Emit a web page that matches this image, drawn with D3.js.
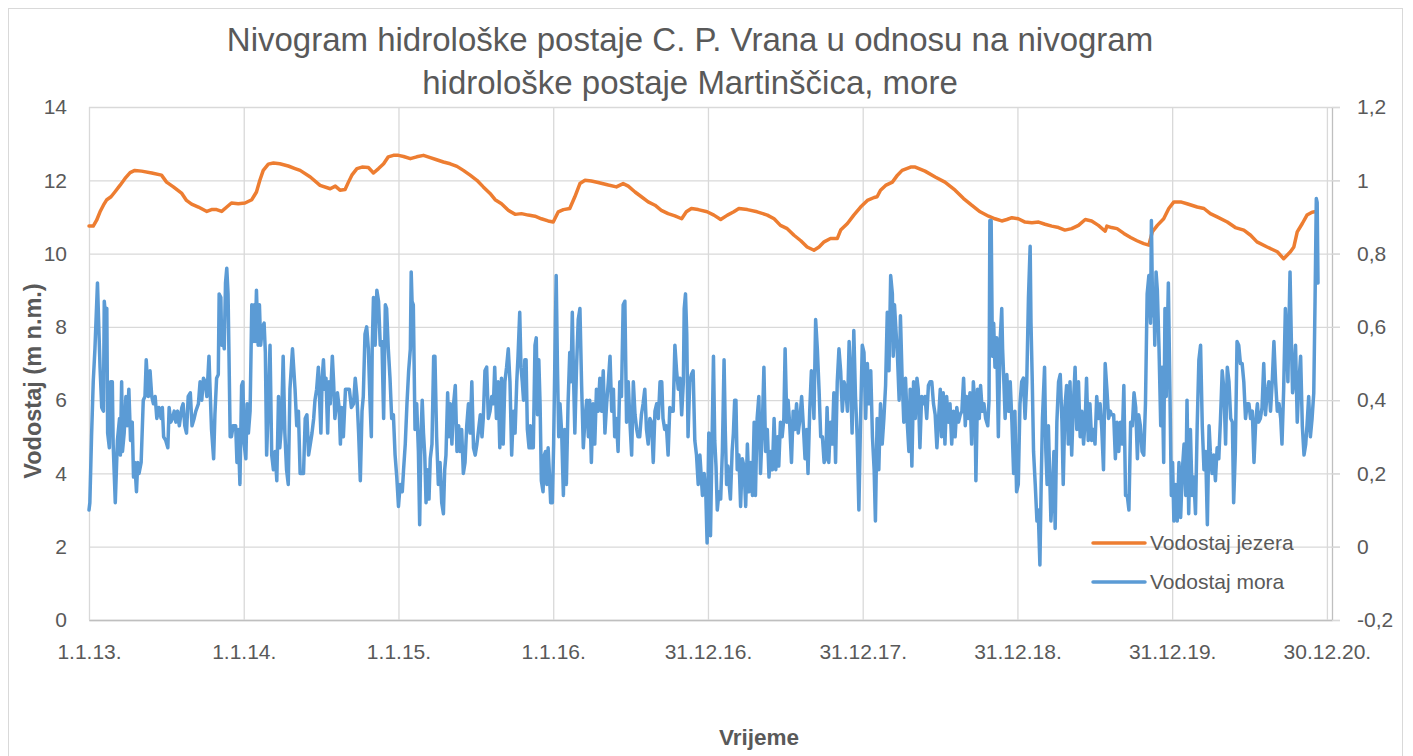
<!DOCTYPE html>
<html>
<head>
<meta charset="utf-8">
<script src="https://cdn.jsdelivr.net/npm/d3@7"></script>
<style>
  body { margin: 0; background: #fff; }
  text { font-family: "Liberation Sans", Arial, sans-serif; fill: #595959; }
</style>
</head>
<body>
<div id="chart"></div>
<script>
// day = days since 1.1.2013

// lake level, m n.m. (left axis)
const lakeSeries = [
  [0,10.75],[10,10.75],[18,10.91],[26,11.14],[34,11.32],[42,11.47],[52,11.55],[61,11.68],[73,11.86],[85,12.05],[97,12.21],[108,12.27],[124,12.25],[148,12.2],[171,12.14],[183,11.95],[199,11.82],[219,11.64],[230,11.45],[242,11.35],[258,11.27],[278,11.15],[289,11.2],[301,11.2],[313,11.15],[325,11.27],[336,11.38],[352,11.36],[368,11.38],[384,11.47],[395,11.68],[403,12.0],[411,12.27],[423,12.44],[435,12.47],[450,12.45],[470,12.39],[486,12.32],
  [498,12.27],[522,12.09],[545,11.86],[569,11.77],[581,11.84],[592,11.73],[604,11.75],[612,11.95],[620,12.14],[632,12.32],[644,12.36],[659,12.35],[671,12.2],[683,12.32],[695,12.45],[706,12.64],[718,12.68],[730,12.68],[742,12.65],[758,12.59],[773,12.64],[789,12.68],[805,12.62],[820,12.56],[836,12.5],[852,12.45],[868,12.38],[883,12.27],[899,12.14],[915,12.0],[930,11.82],[946,11.64],[958,11.47],
  [973,11.36],[989,11.18],[1005,11.07],[1020,11.09],[1036,11.05],[1052,11.02],[1067,10.95],[1083,10.89],[1095,10.86],[1107,11.14],[1119,11.2],[1134,11.23],[1146,11.55],[1158,11.91],[1170,12.0],[1185,11.98],[1201,11.94],[1225,11.87],[1244,11.82],[1260,11.91],[1272,11.84],[1288,11.68],[1303,11.55],[1319,11.41],[1335,11.32],[1350,11.18],[1366,11.09],[1382,11.03],[1398,10.95],[1409,11.14],[1421,11.23],[1437,11.2],
  [1458,11.14],[1474,11.05],[1490,10.93],[1506,11.05],[1521,11.14],[1533,11.23],[1553,11.2],[1576,11.14],[1600,11.05],[1616,10.95],[1631,10.77],[1647,10.68],[1663,10.5],[1679,10.35],[1694,10.18],[1710,10.09],[1722,10.18],[1734,10.32],[1749,10.41],[1765,10.41],[1773,10.64],[1789,10.82],[1804,11.05],[1820,11.27],[1836,11.45],[1852,11.53],[1859,11.55],[1867,11.73],[1879,11.86],[1895,11.95],[1907,12.14],[1918,12.27],[1938,12.36],
  [1949,12.36],[1972,12.25],[1996,12.09],[2019,11.95],[2043,11.73],[2063,11.5],[2082,11.32],[2102,11.14],[2122,11.02],[2137,10.95],[2153,10.89],[2165,10.93],[2177,10.98],[2192,10.95],[2208,10.86],[2224,10.84],[2240,10.86],[2255,10.8],[2271,10.75],[2287,10.71],[2302,10.64],[2318,10.68],[2334,10.77],[2350,10.93],[2365,10.89],[2381,10.77],[2397,10.61],[2401,10.75],[2412,10.71],
  [2425,10.68],[2441,10.55],[2457,10.44],[2472,10.35],[2488,10.27],[2500,10.23],[2508,10.59],[2520,10.77],[2535,10.95],[2547,11.23],[2559,11.41],[2575,11.41],[2590,11.36],[2614,11.27],[2630,11.23],[2645,11.09],[2661,11.0],[2685,10.86],[2704,10.71],[2724,10.64],[2740,10.5],[2755,10.32],[2779,10.18],[2803,10.05],[2818,9.86],[2834,10.05],[2842,10.18],[2850,10.59],[2862,10.82],[2873,11.05],[2885,11.13],[2891,11.14]
]

// sea level, m (right axis)
const seaSeries = [
  [0,0.1],[2,0.12],[6,0.30],[10,0.45],[14,0.54],[20,0.72],[26,0.49],[30,0.38],[34,0.37],[36,0.67],[39,0.63],[42,0.65],[44,0.31],[48,0.27],[51,0.45],[55,0.45],[57,0.28],[62,0.12],[67,0.29],[72,0.35],[74,0.25],[77,0.45],[79,0.26],[83,0.31],[87,0.41],[90,0.33],[94,0.43],[98,0.29],[102,0.34],[105,0.19],[108,0.23],[112,0.15],[115,0.23],[118,0.20],[123,0.23],[128,0.40],[132,0.41],[135,0.51],[140,0.41],[144,0.48],[148,0.41],[152,0.39],[156,0.41],[160,0.35],[165,0.38],[170,0.35],[173,0.38],[176,0.30],[181,0.29],[186,0.27],[189,0.38],[193,0.34],[197,0.35],[201,0.37],[205,0.34],[209,0.37],[213,0.33],[219,0.38],[222,0.39],[226,0.33],[230,0.31],[234,0.41],[239,0.42],[243,0.33],[248,0.35],[252,0.37],[258,0.39],[262,0.45],[266,0.40],[270,0.46],[274,0.45],[278,0.41],[283,0.52],[285,0.45],[289,0.32],[294,0.24],[297,0.36],[301,0.46],[305,0.47],[307,0.69],[311,0.68],[313,0.55],[316,0.57],[319,0.54],[322,0.72],[325,0.76],[328,0.69],[330,0.54],[333,0.30],[336,0.30],[340,0.33],[346,0.33],[349,0.23],[352,0.32],[356,0.17],[360,0.44],[363,0.45],[366,0.28],[370,0.24],[373,0.39],[376,0.31],[380,0.37],[384,0.66],[387,0.56],[390,0.66],[392,0.56],[395,0.70],[399,0.55],[402,0.66],[405,0.55],[409,0.60],[413,0.61],[416,0.53],[419,0.25],[423,0.39],[427,0.55],[431,0.25],[435,0.21],[439,0.26],[443,0.18],[447,0.41],[450,0.27],[454,0.33],[458,0.52],[462,0.31],[466,0.21],[470,0.17],[474,0.43],[480,0.54],
  [486,0.43],[490,0.33],[494,0.37],[498,0.20],[506,0.20],[510,0.35],[514,0.36],[518,0.25],[522,0.28],[526,0.31],[530,0.35],[533,0.40],[537,0.43],[541,0.49],[544,0.40],[547,0.31],[550,0.46],[553,0.51],[556,0.43],[559,0.46],[563,0.31],[566,0.45],[569,0.39],[574,0.52],[577,0.45],[580,0.35],[583,0.38],[586,0.42],[590,0.38],[593,0.28],[596,0.38],[600,0.30],[605,0.43],[610,0.43],[614,0.43],[619,0.38],[624,0.39],[628,0.46],[632,0.41],[636,0.31],[640,0.18],[644,0.37],[647,0.41],[651,0.58],[655,0.60],[659,0.54],[663,0.39],[666,0.30],[668,0.54],[671,0.68],[675,0.55],[679,0.70],[683,0.67],[687,0.55],[691,0.56],[695,0.35],[699,0.66],[702,0.65],[706,0.54],[710,0.46],[714,0.35],[718,0.36],[722,0.25],[726,0.19],[730,0.11],[734,0.17],[739,0.15],[742,0.21],[746,0.28],[750,0.39],[754,0.48],[758,0.54],[760,0.75],[762,0.67],[765,0.66],[769,0.32],[773,0.39],[777,0.26],[780,0.06],[783,0.30],[786,0.40],[789,0.31],[792,0.25],[795,0.12],[798,0.21],[802,0.13],[805,0.24],[809,0.28],[813,0.52],[816,0.52],[820,0.30],[824,0.17],[828,0.23],[832,0.12],[836,0.09],[839,0.21],[842,0.25],[846,0.42],[849,0.30],[852,0.39],[856,0.28],[860,0.39],[864,0.44],[868,0.26],[872,0.33],[875,0.26],[879,0.32],[883,0.20],[887,0.23],[891,0.33],[895,0.39],[899,0.31],[903,0.45],[907,0.27],[911,0.25],[915,0.28],[919,0.32],[923,0.36],[927,0.30],[930,0.35],[934,0.48],[938,0.49],[942,0.35],[946,0.37],[950,0.41],[954,0.39],
  [957,0.49],[961,0.35],[965,0.45],[969,0.27],[973,0.46],[977,0.28],[981,0.45],[985,0.49],[989,0.54],[993,0.45],[997,0.25],[1001,0.37],[1005,0.31],[1009,0.45],[1012,0.52],[1016,0.64],[1019,0.49],[1022,0.45],[1025,0.40],[1028,0.51],[1031,0.51],[1034,0.32],[1038,0.27],[1041,0.33],[1044,0.27],[1048,0.27],[1052,0.55],[1055,0.57],[1058,0.36],[1061,0.51],[1064,0.39],[1067,0.18],[1071,0.15],[1074,0.25],[1077,0.26],[1080,0.17],[1083,0.27],[1086,0.20],[1089,0.12],[1093,0.12],[1096,0.28],[1099,0.52],[1102,0.74],[1105,0.49],[1108,0.30],[1111,0.39],[1115,0.31],[1119,0.14],[1122,0.32],[1126,0.17],[1130,0.39],[1134,0.53],[1137,0.45],[1140,0.64],[1143,0.46],[1146,0.31],[1150,0.49],[1154,0.62],[1158,0.65],[1162,0.44],[1166,0.27],[1170,0.35],[1174,0.40],[1178,0.30],[1181,0.40],[1185,0.23],[1189,0.39],[1193,0.28],[1197,0.43],[1201,0.37],[1205,0.46],[1209,0.37],[1213,0.48],[1217,0.31],[1221,0.39],[1225,0.45],[1229,0.52],[1233,0.37],[1237,0.43],[1240,0.30],[1244,0.35],[1248,0.26],[1252,0.45],[1256,0.41],[1260,0.66],[1264,0.67],[1268,0.34],[1272,0.45],[1276,0.34],[1280,0.25],[1284,0.45],[1288,0.36],[1292,0.32],[1295,0.30],[1299,0.30],[1303,0.36],[1307,0.39],[1311,0.43],[1315,0.32],[1319,0.28],[1323,0.35],[1327,0.34],[1331,0.23],[1335,0.37],[1339,0.39],[1343,0.35],[1347,0.45],[1351,0.45],[1354,0.35],[1358,0.32],[1362,0.33],[1366,0.25],[1370,0.38],[1374,0.37],[1378,0.37],[1382,0.55],[1386,0.48],[1390,0.43],[1394,0.46],[1398,0.36],[1402,0.45],[1404,0.65],[1407,0.69],[1410,0.58],[1413,0.30],[1417,0.45],[1421,0.47],[1425,0.48],[1429,0.29],[1433,0.25],[1437,0.17],[1441,0.25],
  [1447,0.14],[1451,0.20],[1455,0.14],[1458,0.01],[1462,0.31],[1466,0.03],[1470,0.31],[1473,0.52],[1476,0.29],[1479,0.22],[1482,0.10],[1486,0.15],[1490,0.13],[1494,0.26],[1498,0.51],[1501,0.31],[1504,0.17],[1507,0.22],[1510,0.17],[1513,0.13],[1517,0.26],[1520,0.31],[1523,0.40],[1526,0.40],[1529,0.21],[1533,0.25],[1537,0.11],[1541,0.24],[1545,0.22],[1549,0.11],[1553,0.28],[1557,0.15],[1561,0.23],[1565,0.14],[1569,0.34],[1572,0.14],[1576,0.35],[1580,0.41],[1584,0.20],[1588,0.32],[1592,0.49],[1596,0.26],[1600,0.32],[1604,0.19],[1608,0.26],[1612,0.21],[1616,0.35],[1620,0.21],[1624,0.30],[1627,0.22],[1631,0.34],[1635,0.30],[1639,0.35],[1642,0.54],[1646,0.34],[1649,0.40],[1653,0.33],[1657,0.23],[1661,0.37],[1665,0.32],[1669,0.39],[1673,0.31],[1677,0.35],[1681,0.41],[1685,0.33],[1689,0.24],[1693,0.32],[1696,0.20],[1700,0.37],[1704,0.48],[1707,0.45],[1710,0.35],[1714,0.62],[1718,0.54],[1722,0.43],[1726,0.30],[1730,0.30],[1734,0.23],[1738,0.24],[1741,0.38],[1745,0.23],[1749,0.34],[1753,0.28],[1757,0.42],[1761,0.23],[1765,0.45],[1769,0.54],[1773,0.48],[1777,0.37],[1781,0.45],[1785,0.43],[1789,0.37],[1793,0.56],[1796,0.48],[1800,0.31],[1804,0.59],[1808,0.41],[1812,0.30],[1816,0.10],[1820,0.35],[1824,0.55],[1828,0.53],[1832,0.35],[1836,0.50],[1840,0.39],[1844,0.48],[1848,0.30],[1852,0.21],[1855,0.07],[1859,0.35],[1863,0.21],[1867,0.39],[1871,0.28],[1875,0.35],[1879,0.44],[1883,0.64],[1887,0.48],[1891,0.74],[1895,0.69],[1897,0.52],[1900,0.66],[1903,0.60],[1907,0.52],[1911,0.40],[1914,0.63],[1918,0.46],[1922,0.34],[1926,0.46],[1930,0.34],[1934,0.26],
  [1937,0.43],[1941,0.22],[1945,0.45],[1949,0.35],[1953,0.46],[1956,0.43],[1960,0.27],[1964,0.41],[1968,0.39],[1972,0.41],[1976,0.35],[1980,0.44],[1984,0.45],[1988,0.45],[1992,0.39],[1996,0.36],[2000,0.27],[2004,0.35],[2008,0.43],[2011,0.30],[2015,0.42],[2019,0.28],[2023,0.41],[2027,0.34],[2031,0.39],[2035,0.28],[2039,0.37],[2043,0.30],[2047,0.38],[2051,0.34],[2055,0.36],[2059,0.37],[2063,0.46],[2067,0.33],[2070,0.41],[2074,0.35],[2078,0.42],[2082,0.28],[2086,0.45],[2090,0.38],[2092,0.18],[2096,0.43],[2100,0.35],[2103,0.44],[2107,0.37],[2111,0.39],[2115,0.35],[2120,0.33],[2123,0.40],[2125,0.89],[2128,0.89],[2131,0.52],[2134,0.61],[2137,0.49],[2141,0.57],[2145,0.30],[2149,0.56],[2153,0.65],[2155,0.54],[2158,0.45],[2161,0.35],[2165,0.47],[2169,0.37],[2173,0.45],[2177,0.34],[2181,0.20],[2184,0.37],[2188,0.15],[2192,0.17],[2196,0.39],[2200,0.45],[2204,0.46],[2208,0.35],[2212,0.45],[2216,0.68],[2220,0.82],[2222,0.61],[2225,0.45],[2228,0.26],[2232,0.17],[2236,0.07],[2239,0.10],[2243,-0.05],[2246,0.17],[2249,0.35],[2254,0.49],[2257,0.26],[2260,0.17],[2263,0.33],[2266,0.20],[2269,0.07],[2273,0.16],[2276,0.26],[2279,0.05],[2283,0.34],[2287,0.45],[2291,0.47],[2295,0.34],[2298,0.17],[2302,0.38],[2306,0.44],[2310,0.28],[2314,0.45],[2318,0.25],[2322,0.39],[2326,0.49],[2330,0.32],[2334,0.45],[2338,0.30],[2342,0.37],[2346,0.28],[2350,0.35],[2353,0.46],[2357,0.29],[2361,0.39],[2365,0.29],[2369,0.32],[2373,0.28],[2377,0.41],[2381,0.35],[2385,0.39],[2389,0.32],[2393,0.21],[2397,0.50],[2401,0.43],[2405,0.35],[2409,0.37],[2412,0.36],
  [2417,0.36],[2421,0.24],[2425,0.34],[2429,0.26],[2433,0.34],[2437,0.28],[2441,0.44],[2445,0.14],[2449,0.14],[2453,0.10],[2457,0.34],[2461,0.33],[2465,0.42],[2469,0.38],[2473,0.24],[2476,0.36],[2480,0.33],[2484,0.26],[2488,0.25],[2492,0.39],[2496,0.69],[2500,0.74],[2504,0.61],[2506,0.89],[2509,0.63],[2512,0.70],[2514,0.55],[2517,0.75],[2520,0.70],[2524,0.54],[2528,0.33],[2531,0.49],[2535,0.23],[2538,0.65],[2541,0.41],[2543,0.54],[2546,0.72],[2550,0.40],[2553,0.14],[2556,0.23],[2559,0.07],[2563,0.17],[2567,0.07],[2571,0.23],[2575,0.08],[2579,0.21],[2583,0.28],[2587,0.14],[2590,0.40],[2594,0.09],[2598,0.32],[2602,0.14],[2606,0.19],[2610,0.09],[2614,0.33],[2618,0.51],[2622,0.55],[2626,0.33],[2630,0.21],[2634,0.26],[2638,0.06],[2642,0.33],[2645,0.26],[2649,0.20],[2653,0.25],[2657,0.18],[2661,0.27],[2665,0.24],[2669,0.35],[2673,0.48],[2677,0.43],[2681,0.28],[2685,0.49],[2689,0.45],[2693,0.35],[2697,0.34],[2700,0.12],[2704,0.26],[2708,0.56],[2712,0.55],[2716,0.50],[2720,0.50],[2724,0.45],[2728,0.35],[2732,0.39],[2736,0.39],[2740,0.35],[2744,0.37],[2748,0.23],[2752,0.34],[2756,0.39],[2759,0.34],[2763,0.35],[2767,0.38],[2771,0.50],[2775,0.36],[2779,0.42],[2783,0.45],[2787,0.37],[2791,0.45],[2795,0.56],[2799,0.45],[2803,0.37],[2807,0.39],[2811,0.35],[2814,0.28],[2818,0.43],[2822,0.65],[2825,0.57],[2828,0.45],[2830,0.58],[2833,0.75],[2836,0.57],[2839,0.42],[2842,0.45],[2846,0.55],[2850,0.34],[2854,0.45],[2858,0.52],[2862,0.33],[2866,0.25],[2870,0.28],[2873,0.33],[2877,0.41],[2881,0.30],[2885,0.35],[2889,0.42],[2892,0.67],[2895,0.95],[2897,0.94],[2899,0.72]
]

// ticks
const xTickDays = [0, 365, 730, 1095, 1460, 1825, 2190, 2555, 2920]
const leftTicks = [0, 2, 4, 6, 8, 10, 12, 14]
const rightTicks = [-0.2, 0, 0.2, 0.4, 0.6, 0.8, 1, 1.2]
const lastDay = 2932

const titleLines = ["Nivogram hidrološke postaje C. P. Vrana u odnosu na nivogram",
                    "hidrološke postaje Martinščica, more"]
const legendItems = [
  { name: "Vodostaj jezera", color: "#ED7D31" },
  { name: "Vodostaj mora", color: "#5B9BD5" }
]

/* LAYOUT */
const width = 1413
const height = 756
const plot = { left: 89, right: 1332, top: 107, bottom: 620 }
const gridColor = "#d9d9d9"
const axisColor = "#bfbfbf"

const start = new Date(Date.UTC(2013, 0, 1))
const toDate = d => d3.utcDay.offset(start, d)

/* SCALES */
const xScale = d3.scaleUtc()
  .domain([start, toDate(lastDay)])
  .range([plot.left, plot.right])

const yLeft = d3.scaleLinear()
  .domain([0, 14])
  .range([plot.bottom, plot.top])

const yRight = d3.scaleLinear()
  .domain([-0.2, 1.2])
  .range([plot.bottom, plot.top])

const hr = d3.formatLocale({ decimal: ",", thousands: ".", grouping: [3], currency: ["", ""], minus: "-" })

/* SVG */
const svg = d3.select("#chart")
  .append("svg")
  .attr("width", width)
  .attr("height", height)

// chart border
svg.append("rect")
  .attr("x", 8.5).attr("y", 8.5)
  .attr("width", 1394).attr("height", 770)
  .attr("fill", "none")
  .attr("stroke", gridColor)

// TITLE
svg.selectAll(".title")
  .data(titleLines)
  .join("text")
  .attr("class", "title")
  .attr("x", 690)
  .attr("y", (d, i) => 51 + i * 43)
  .attr("text-anchor", "middle")
  .style("font-size", "33px")
  .text(d => d)

// LEFT AXIS + horizontal grid
const yAxisLeft = d3.axisLeft(yLeft)
  .tickValues(leftTicks)
  .tickSize(-(plot.right - plot.left + 8))
  .tickPadding(22)

const leftG = svg.append("g")
  .attr("transform", `translate(${plot.left},0)`)
  .call(yAxisLeft)
leftG.select(".domain").remove()
leftG.selectAll(".tick line").attr("stroke", gridColor).attr("stroke-width", 1.3)
leftG.selectAll(".tick text").style("font-size", "21px").attr("fill", "#595959")

// X AXIS + vertical grid
const xAxis = d3.axisBottom(xScale)
  .tickValues(xTickDays.map(toDate))
  .tickFormat(d3.utcFormat("%-d.%-m.%y."))
  .tickSize(-(plot.bottom - plot.top))
  .tickSizeOuter(0)
  .tickPadding(24)

const xG = svg.append("g")
  .attr("transform", `translate(0,${plot.bottom})`)
  .call(xAxis)
xG.selectAll(".tick line").attr("stroke", gridColor).attr("stroke-width", 1.3)
xG.selectAll(".tick text").style("font-size", "21px").attr("fill", "#595959")
xG.select(".domain").attr("stroke", axisColor).attr("stroke-width", 1.3)

// RIGHT AXIS
const yAxisRight = d3.axisRight(yRight)
  .tickValues(rightTicks)
  .tickFormat(hr.format(".1~f"))
  .tickSize(8)
  .tickSizeOuter(0)
  .tickPadding(17)

const rightG = svg.append("g")
  .attr("transform", `translate(${plot.right},0)`)
  .call(yAxisRight)
rightG.select(".domain").attr("stroke", axisColor).attr("stroke-width", 1.3)
rightG.selectAll(".tick line").attr("stroke", gridColor).attr("stroke-width", 1.3)
rightG.selectAll(".tick text").style("font-size", "21px").attr("fill", "#595959")

// AXIS TITLES
svg.append("text")
  .attr("transform", "translate(33,381) rotate(-90)")
  .attr("text-anchor", "middle")
  .attr("dominant-baseline", "central")
  .style("font-size", "23.5px")
  .style("font-weight", "bold")
  .text("Vodostaj (m n.m.)")

svg.append("text")
  .attr("x", 759)
  .attr("y", 745)
  .attr("text-anchor", "middle")
  .style("font-size", "22.5px")
  .style("font-weight", "bold")
  .text("Vrijeme")

// LINES
const lakeLine = d3.line()
  .x(d => xScale(toDate(d[0])))
  .y(d => yLeft(d[1]))

const seaLine = d3.line()
  .x(d => xScale(toDate(d[0])))
  .y(d => yRight(d[1]))

svg.append("path")
  .datum(lakeSeries)
  .attr("d", lakeLine)
  .attr("fill", "none")
  .attr("stroke", legendItems[0].color)
  .attr("stroke-width", 3.5)
  .attr("stroke-linejoin", "round")
  .attr("stroke-linecap", "round")

svg.append("path")
  .datum(seaSeries)
  .attr("d", seaLine)
  .attr("fill", "none")
  .attr("stroke", legendItems[1].color)
  .attr("stroke-width", 3.5)
  .attr("stroke-linejoin", "round")
  .attr("stroke-linecap", "round")

// LEGEND
const legend = svg.selectAll(".legend")
  .data(legendItems)
  .join("g")
  .attr("class", "legend")
  .attr("transform", (d, i) => `translate(1093,${543 + i * 39})`)

legend.append("line")
  .attr("x1", 0).attr("x2", 52)
  .attr("stroke", d => d.color)
  .attr("stroke-width", 3.5)
  .attr("stroke-linecap", "round")

legend.append("text")
  .attr("x", 57)
  .attr("dy", "0.35em")
  .style("font-size", "21px")
  .text(d => d.name)
</script>
</body>
</html>
